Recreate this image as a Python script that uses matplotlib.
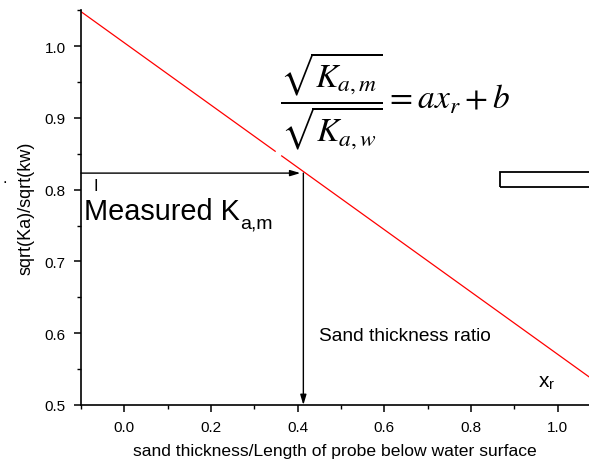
import matplotlib
matplotlib.use("Agg")
import matplotlib.pyplot as plt
from matplotlib.patches import Rectangle
from matplotlib.ticker import MultipleLocator

plt.rcParams['font.family'] = ['Liberation Sans', 'DejaVu Sans']
plt.rcParams['mathtext.fontset'] = 'stix'

# --- data ---
fit_a = -0.434          # slope of the red calibration line
fit_b = 1.0045          # intercept
seg1_x = [-0.1, 0.348]  # red line, first piece
seg2_x = [0.363, 1.075] # red line, second piece (small gap in the original)
x_meas = 0.413          # sand thickness ratio found
y_meas = 0.823          # measured sqrt(Ka)/sqrt(kw)
box_x = [0.867, 1.2]    # small box at the right edge
box_y = [0.803, 0.825]

xlim = (-0.1, 1.072)
ylim = (0.5, 1.05)
xticks = [0.0, 0.2, 0.4, 0.6, 0.8, 1.0]
yticks = [0.5, 0.6, 0.7, 0.8, 0.9, 1.0]

fig = plt.figure(figsize=(5.89, 4.64), dpi=100)
ax = fig.add_axes([0.1375, 0.125, 0.8625, 0.851])

# red fit line
for xs in (seg1_x, seg2_x):
    ax.plot(xs, [fit_a * v + fit_b for v in xs], color='red', lw=0.9)

# horizontal arrow to the line, then down to the x axis
ax.annotate('', xy=(x_meas - 0.007, y_meas), xytext=(xlim[0], y_meas),
            arrowprops=dict(arrowstyle='-|>,head_length=0.6,head_width=0.18',
                            color='black', lw=1.0, shrinkA=0, shrinkB=0))
ax.annotate('', xy=(x_meas, ylim[0]), xytext=(x_meas, y_meas),
            arrowprops=dict(arrowstyle='-|>,head_length=0.6,head_width=0.18',
                            color='black', lw=1.0, shrinkA=0, shrinkB=0))

# box cut off at the right
ax.add_patch(Rectangle((box_x[0], box_y[0]), box_x[1] - box_x[0], box_y[1] - box_y[0],
                       fill=False, edgecolor='black', lw=1.3, clip_on=True))

# texts
ax.text(-0.065, 0.806, 'I', fontsize=12, ha='center', va='center')
ax.text(-0.094, 0.7587, 'Measured K', fontsize=20.8, ha='left', va='baseline')
ax.text(0.266, 0.7476, 'a,m', fontsize=14, ha='left', va='baseline')
ax.text(0.36, 0.925, r'$\dfrac{\sqrt{K_{a,m}}}{\sqrt{K_{a,w}}}=ax_r+b$',
        fontsize=24, ha='left', va='center')
ax.text(0.45, 0.597, 'Sand thickness ratio', fontsize=13.8, ha='left', va='center')
ax.text(0.955, 0.533, r'x$_{\mathregular{r}}$', fontsize=15, ha='left', va='center')
fig.text(0.005, 0.615, '.', fontsize=12, ha='left', va='center')

# axes styling
ax.set_xlim(*xlim)
ax.set_ylim(*ylim)
ax.set_xticks(xticks)
ax.set_yticks(yticks)
ax.xaxis.set_minor_locator(MultipleLocator(0.1))
ax.yaxis.set_minor_locator(MultipleLocator(0.05))
ax.xaxis.set_major_formatter(matplotlib.ticker.FormatStrFormatter('%.1f'))
ax.yaxis.set_major_formatter(matplotlib.ticker.FormatStrFormatter('%.1f'))
for s in ('top', 'right'):
    ax.spines[s].set_visible(False)
for s in ('left', 'bottom'):
    ax.spines[s].set_linewidth(1.2)
ax.tick_params(which='major', direction='out', length=5, width=1.1, labelsize=11, pad=6)
ax.tick_params(which='minor', direction='out', length=3, width=1.0)

ax.set_xlabel('sand thickness/Length of probe below water surface', fontsize=12.6, labelpad=6)
ax.set_ylabel('sqrt(Ka)/sqrt(kw)', fontsize=13, labelpad=7)

plt.savefig('out.png', dpi=100)
plt.close()
